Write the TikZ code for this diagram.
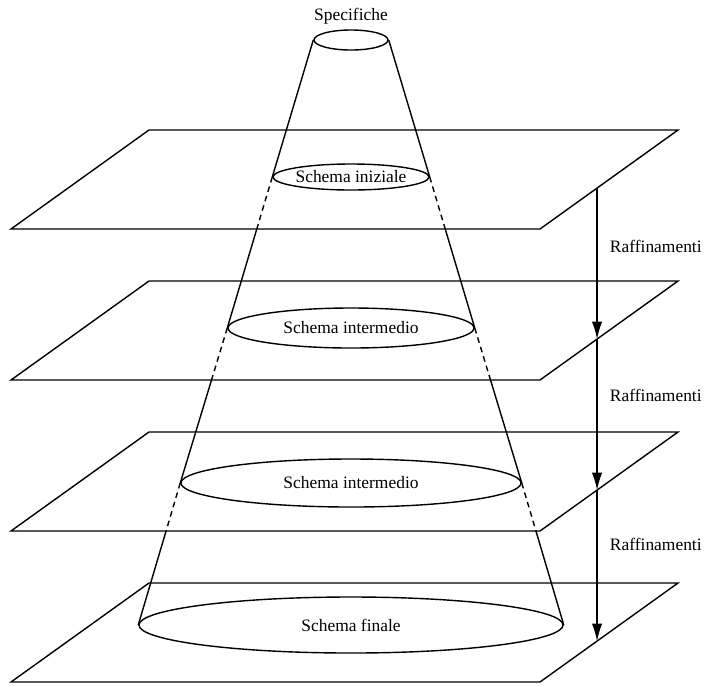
\documentclass[tikz,border=0pt]{standalone}
\usepackage{fontspec}
\setmainfont{Liberation Serif}
\usetikzlibrary{calc}
\usetikzlibrary{positioning}
\usetikzlibrary{shapes.geometric}
\usetikzlibrary{arrows.meta}

\tikzset{
  plane/.style={line width=1pt},
  cone/.style={line width=1pt},
  hidden/.style={line width=1pt, dash pattern=on 4pt off 3pt},
  disc/.style={ellipse, draw, line width=1pt, inner sep=0pt},
  refarrow/.style={line width=1pt, -{Latex[length=0.44cm,width=0.26cm]}},
  lbl/.style={font=\fontsize{12.4}{14}\selectfont}
}

\begin{document}
\begin{tikzpicture}[x=0.025cm,y=-0.025cm]
\useasboundingbox (0,0) rectangle (707,685);

% piani
\foreach \k/\y in {1/130,2/281,3/432,4/583}{
  \coordinate (bl\k) at (149,\y);
  \coordinate (br\k) at (678,\y);
  \coordinate (fl\k) at (11,\y+99);
  \coordinate (fr\k) at (540,\y+99);
  \draw[plane] (bl\k) -- (br\k) -- (fr\k) -- (fl\k) -- cycle;
}

% cono
\node[disc, minimum width=1.85cm, minimum height=0.5cm] (top) at (351,40) {};
\node[disc, minimum width=3.9cm, minimum height=0.65cm,
  label={[lbl]center:Schema iniziale}] (ini) at (351,177) {};
\node[disc, minimum width=6.15cm, minimum height=1cm,
  label={[lbl]center:Schema intermedio}] (mid1) at (351,328) {};
\node[disc, minimum width=8.5cm, minimum height=1.2cm,
  label={[lbl]center:Schema intermedio}] (mid2) at (351,483) {};
\node[disc, minimum width=10.6cm, minimum height=1.4cm,
  label={[lbl]center:Schema finale}] (fin) at (351,625) {};
\node[lbl, above=0pt of top] (spec) {Specifiche};

\draw[cone] (top.west) -- (ini.west);
\draw[cone] (top.east) -- (ini.east);
\foreach \a/\b/\k in {ini/mid1/1,mid1/mid2/2,mid2/fin/3}{
  \foreach \s in {west,east}{
    \coordinate (ua) at (\a.\s);
    \coordinate (ub) at (\b.\s);
    \coordinate (pa) at (fl\k);
    \coordinate (pb) at (fr\k);
    \coordinate (cut) at (intersection of ua--ub and pa--pb);
    \draw[hidden] (ua) -- (cut);
    \draw[cone] (cut) -- (ub);
  }
}

% raffinamenti
\coordinate (va) at (597,0);
\coordinate (vb) at (597,700);
\foreach \k in {1,...,4}{
  \coordinate (pa) at (br\k);
  \coordinate (pb) at (fr\k);
  \coordinate (r\k) at (intersection of pa--pb and va--vb);
}
\draw[refarrow] (r1) -- (r2);
\draw[refarrow] (r2) -- (r3);
\draw[refarrow] (r3) -- (r4);
\foreach \k/\y in {1/246,2/395,3/544}
  \node[lbl, anchor=west] (raf\k) at (605,\y) {Raffinamenti};

\end{tikzpicture}
\end{document}
